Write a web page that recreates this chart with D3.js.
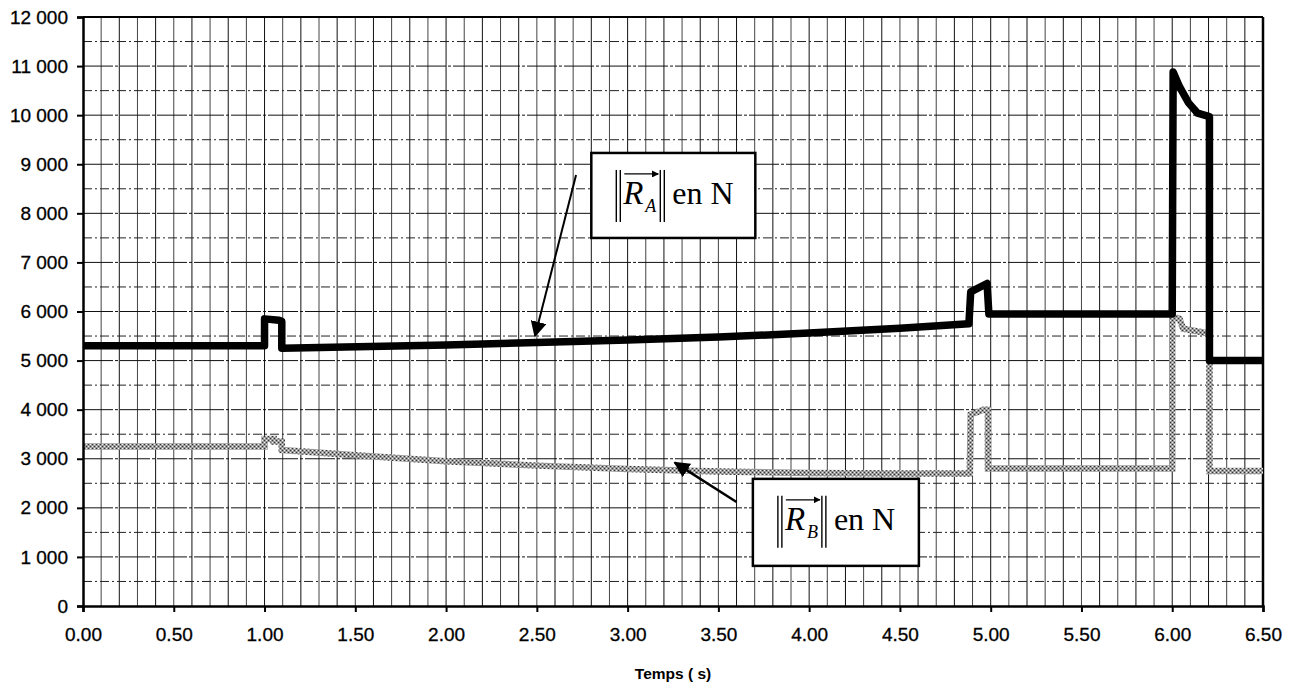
<!DOCTYPE html>
<html>
<head>
<meta charset="utf-8">
<script src="https://cdn.jsdelivr.net/npm/d3@7"></script>
<style>
  body { margin: 0; background: #fff; }
  svg { display: block; }
</style>
</head>
<body>
<div id="chart"></div>
<script>
// temps (s) et efforts (N)
const tempsA = [0, 1.0, 1.0, 1.08, 1.095, 1.095, 2.0, 2.5, 3.0, 3.5, 4.0, 4.5, 4.88, 4.89, 4.98, 4.99, 6.0, 6.005, 6.04, 6.09, 6.14, 6.205, 6.205, 6.5];
const effortA = [5300, 5300, 5850, 5820, 5800, 5250, 5320, 5370, 5420, 5480, 5560, 5660, 5750, 6400, 6570, 5950, 5950, 10880, 10580, 10250, 10040, 9970, 5000, 5000];

const tempsB = [0, 1.0, 1.0, 1.05, 1.05, 1.095, 1.095, 1.5, 2.0, 2.5, 3.0, 3.5, 4.0, 4.5, 4.885, 4.89, 4.96, 4.985, 4.985, 6.0, 6.0, 6.04, 6.06, 6.205, 6.205, 6.5];
const effortB = [3250, 3250, 3400, 3400, 3350, 3350, 3180, 3070, 2950, 2860, 2790, 2740, 2710, 2700, 2700, 3900, 4000, 4000, 2800, 2800, 5900, 5850, 5650, 5550, 2750, 2750];

const yTicks = d3.range(0, 12001, 1000);
const xTicks = d3.range(0, 6.51, 0.5);

const margin = { top: 17, right: 36, bottom: 79, left: 83 };
const width = 1299;
const height = 685;

const svg = d3.select("#chart").append("svg")
  .attr("width", width)
  .attr("height", height);

const x = d3.scaleLinear().domain([0, 6.5]).range([margin.left, width - margin.right]);
const y = d3.scaleLinear().domain([0, 12000]).range([height - margin.bottom, margin.top]);

// motif tramé pour la courbe grise
const defs = svg.append("defs");
const pat = defs.append("pattern")
  .attr("id", "trame")
  .attr("patternUnits", "userSpaceOnUse")
  .attr("width", 4).attr("height", 4);
pat.append("rect").attr("width", 4).attr("height", 4).attr("fill", "#9a9a9a");
pat.append("rect").attr("x", 0).attr("y", 0).attr("width", 1).attr("height", 1).attr("fill", "#333");
pat.append("rect").attr("x", 2).attr("y", 2).attr("width", 1).attr("height", 1).attr("fill", "#333");
pat.append("rect").attr("x", 2).attr("y", 0).attr("width", 1).attr("height", 1).attr("fill", "#eee");
pat.append("rect").attr("x", 0).attr("y", 2).attr("width", 1).attr("height", 1).attr("fill", "#eee");

defs.append("marker")
  .attr("id", "fleche")
  .attr("viewBox", "0 0 10 10")
  .attr("refX", 9).attr("refY", 5)
  .attr("markerWidth", 7).attr("markerHeight", 7)
  .attr("markerUnits", "userSpaceOnUse")
  .attr("orient", "auto")
  .append("path").attr("d", "M0,0 L10,5 L0,10 z").attr("fill", "#000");

defs.append("marker")
  .attr("id", "grosseFleche")
  .attr("viewBox", "0 0 10 10")
  .attr("refX", 9).attr("refY", 5)
  .attr("markerWidth", 16).attr("markerHeight", 16)
  .attr("markerUnits", "userSpaceOnUse")
  .attr("orient", "auto")
  .append("path").attr("d", "M0,0 L10,5 L0,10 z").attr("fill", "#000");

// grille
const grille = svg.append("g");
grille.selectAll(".v")
  .data(d3.range(1, 65))
  .join("line")
  .attr("x1", d => x(d / 10)).attr("x2", d => x(d / 10))
  .attr("y1", y(0)).attr("y2", y(12000))
  .attr("stroke", d => d % 2 ? "#444" : "#111")
  .attr("stroke-width", 1);

grille.selectAll(".h")
  .data(d3.range(1, 24))
  .join("line")
  .attr("x1", x(0)).attr("x2", x(6.5))
  .attr("y1", d => y(d * 500)).attr("y2", d => y(d * 500))
  .attr("stroke", d => d % 2 ? "#222" : "#111")
  .attr("stroke-width", 1)
  .attr("stroke-dasharray", d => d % 2 ? "9,3,2,3" : "30,2,3,2");

// cadre haut et droit
svg.append("line")
  .attr("x1", x(0)).attr("x2", x(6.5))
  .attr("y1", y(12000)).attr("y2", y(12000))
  .attr("stroke", "#000").attr("stroke-width", 2);
svg.append("line")
  .attr("x1", x(6.5)).attr("x2", x(6.5))
  .attr("y1", y(0)).attr("y2", y(12000))
  .attr("stroke", "#000").attr("stroke-width", 2.5);

// courbes
const ligne = d3.line().x(d => x(d[0])).y(d => y(d[1]));

svg.append("path")
  .datum(d3.zip(tempsB, effortB))
  .attr("d", ligne)
  .attr("fill", "none")
  .attr("stroke", "url(#trame)")
  .attr("stroke-width", 6.5)
  .attr("stroke-linejoin", "miter");

svg.append("path")
  .datum(d3.zip(tempsA, effortA))
  .attr("d", ligne)
  .attr("fill", "none")
  .attr("stroke", "#000")
  .attr("stroke-width", 7.5)
  .attr("stroke-linejoin", "round");

// axes
const axeY = svg.append("g")
  .attr("transform", "translate(" + x(0) + ",0)")
  .call(d3.axisLeft(y).tickValues(yTicks).tickSize(6).tickPadding(9)
    .tickFormat(d => d3.format(",")(d).replace(/,/g, " ")));

const axeX = svg.append("g")
  .attr("transform", "translate(0," + y(0) + ")")
  .call(d3.axisBottom(x).tickValues(xTicks).tickSize(6).tickPadding(16)
    .tickFormat(d3.format(".2f")));

[axeY, axeX].forEach(a => {
  a.select(".domain").attr("stroke", "#000").attr("stroke-width", 2.5);
  a.selectAll(".tick line").attr("stroke", "#000").attr("stroke-width", 2);
  a.selectAll("text")
    .attr("font-family", "'Liberation Sans', Arial, sans-serif")
    .attr("font-size", 19)
    .attr("fill", "#000")
    .attr("stroke", "#000")
    .attr("stroke-width", 0.3);
});

svg.append("text")
  .attr("x", x(3.25))
  .attr("y", 679)
  .attr("text-anchor", "middle")
  .attr("font-family", "'Liberation Sans', Arial, sans-serif")
  .attr("font-weight", "bold")
  .attr("font-size", 15.5)
  .text("Temps ( s)");

// étiquettes
function etiquette(t, v, indice, w, h) {
  const bx = x(t), by = y(v);
  const g = svg.append("g");
  g.append("rect")
    .attr("x", bx).attr("y", by)
    .attr("width", w).attr("height", h)
    .attr("fill", "#fff")
    .attr("stroke", "#000").attr("stroke-width", 2.5);
  [25, 29, 69, 73].forEach(dx => {
    g.append("line")
      .attr("x1", bx + dx).attr("x2", bx + dx)
      .attr("y1", by + 17).attr("y2", by + 69)
      .attr("stroke", "#000").attr("stroke-width", 1.4);
  });
  g.append("line")
    .attr("x1", bx + 33).attr("x2", bx + 67)
    .attr("y1", by + 21).attr("y2", by + 21)
    .attr("stroke", "#000").attr("stroke-width", 1.2)
    .attr("marker-end", "url(#fleche)");
  g.append("text")
    .attr("x", bx + 32).attr("y", by + 51)
    .attr("font-family", "'Liberation Serif', 'Times New Roman', serif")
    .attr("font-style", "italic")
    .attr("font-size", 33)
    .text("R");
  g.append("text")
    .attr("x", bx + 54).attr("y", by + 59)
    .attr("font-family", "'Liberation Serif', 'Times New Roman', serif")
    .attr("font-style", "italic")
    .attr("font-size", 18)
    .text(indice);
  g.append("text")
    .attr("x", bx + 81).attr("y", by + 51)
    .attr("font-family", "'Liberation Serif', 'Times New Roman', serif")
    .attr("font-size", 32)
    .text("en N");
}

etiquette(2.8, 9230, "A", 164, 85);
etiquette(3.69, 2590, "B", 166, 87);

// flèches
svg.append("line")
  .attr("x1", x(2.716)).attr("y1", y(8780))
  .attr("x2", x(2.49)).attr("y2", y(5500))
  .attr("stroke", "#000").attr("stroke-width", 2)
  .attr("marker-end", "url(#grosseFleche)");

svg.append("line")
  .attr("x1", x(3.6)).attr("y1", y(2120))
  .attr("x2", x(3.26)).attr("y2", y(2920))
  .attr("stroke", "#000").attr("stroke-width", 2.5)
  .attr("marker-end", "url(#grosseFleche)");
</script>
</body>
</html>
